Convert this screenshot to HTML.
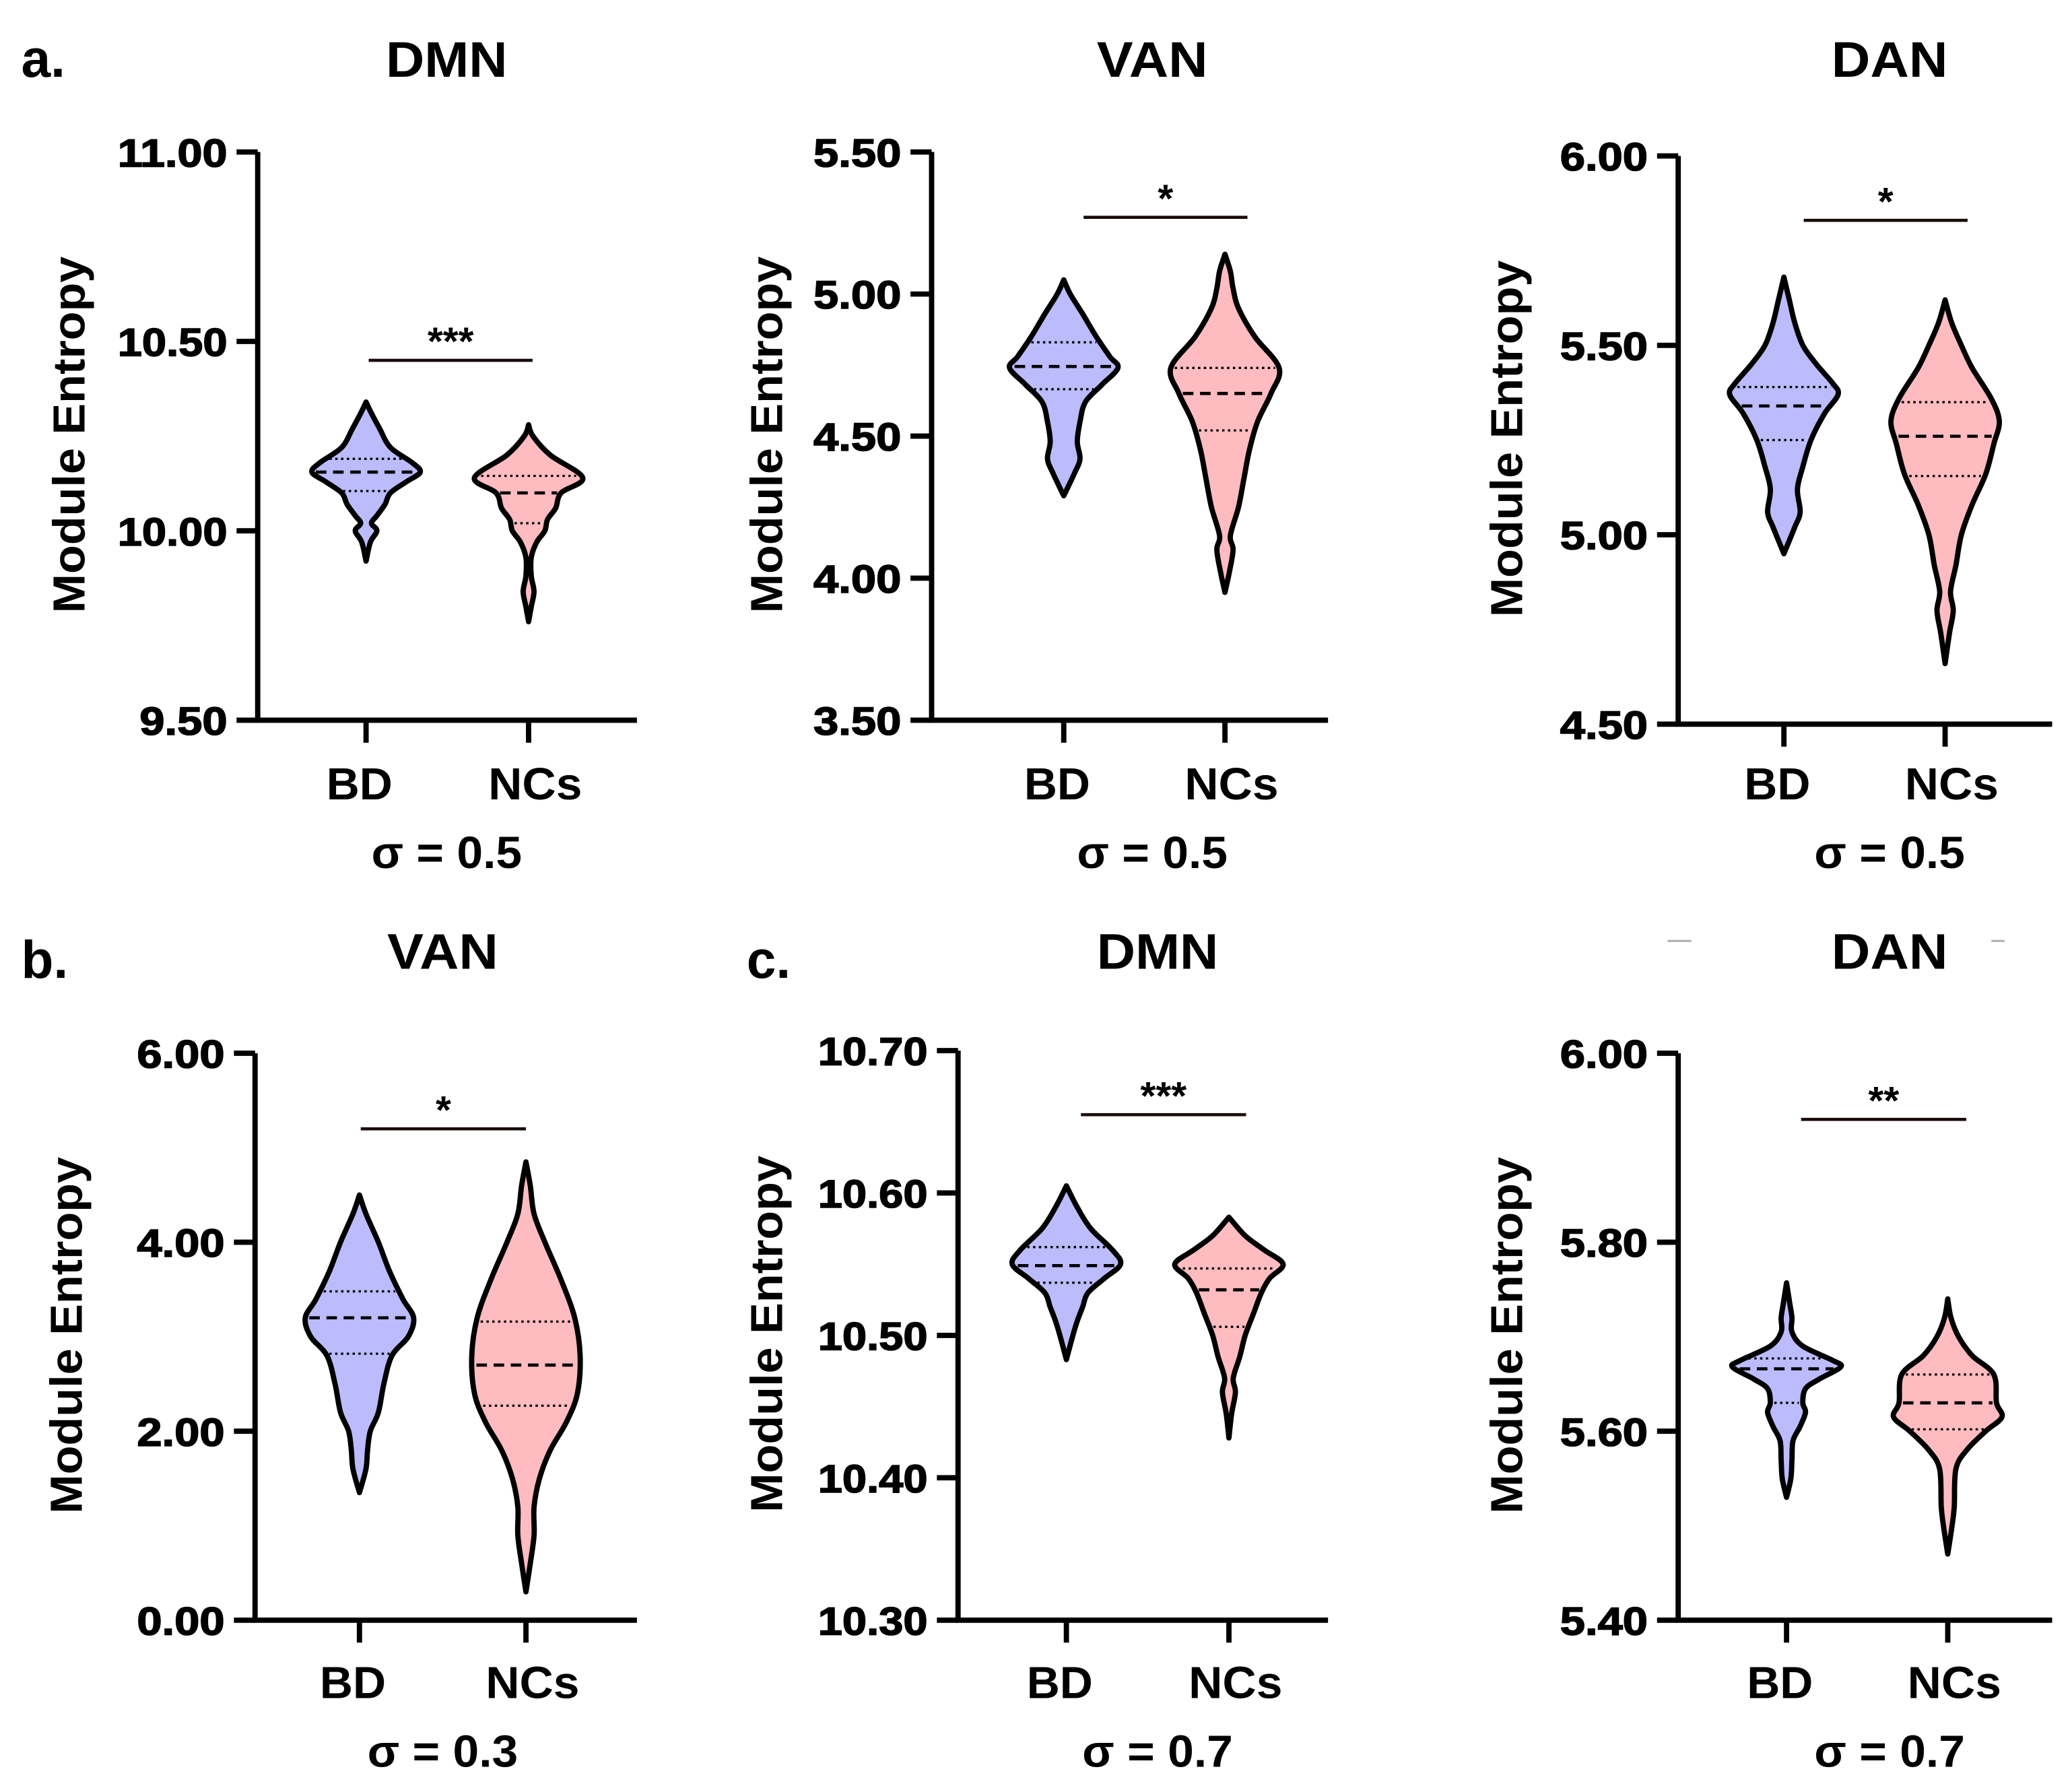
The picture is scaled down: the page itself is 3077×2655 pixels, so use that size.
<!DOCTYPE html>
<html><head><meta charset="utf-8">
<style>
html,body{margin:0;padding:0;background:#fff;}
svg{display:block;}
text{font-family:"Liberation Sans",Arial,sans-serif;font-weight:bold;fill:#000;}
</style></head>
<body>
<svg id="fig" width="3077" height="2655" viewBox="0 0 1568 1353" xmlns="http://www.w3.org/2000/svg">
<rect width="1568" height="1353" fill="#fff"/>
<text x="16" y="58" font-size="40">a.</text>
<text x="16" y="740" font-size="40">b.</text>
<text x="565" y="740" font-size="40">c.</text>
<line x1="1262" y1="712" x2="1280" y2="712" stroke="#aaa" stroke-width="1.5"/>
<line x1="1507" y1="712" x2="1517" y2="712" stroke="#aaa" stroke-width="1.5"/>
</svg>
<script>
// ---- data ----
const categories = ["BD", "NCs"];
const panelTitles = ["DMN", "VAN", "DAN", "VAN", "DMN", "DAN"];
const sigmaLabels = ["σ = 0.5", "σ = 0.5", "σ = 0.5", "σ = 0.3", "σ = 0.7", "σ = 0.7"];
const sigStars = ["***", "*", "*", "*", "***", "**"];
const yMins = [9.5, 3.5, 4.5, 0, 10.3, 5.4];
const yMaxs = [11.0, 5.5, 6.0, 6.0, 10.7, 6.0];
const yTickVals = [[9.5,10,10.5,11],[3.5,4,4.5,5,5.5],[4.5,5,5.5,6],[0,2,4,6],[10.3,10.4,10.5,10.6,10.7],[5.4,5.6,5.8,6.0]];
const yTickLabels = [["9.50","10.00","10.50","11.00"],["3.50","4.00","4.50","5.00","5.50"],["4.50","5.00","5.50","6.00"],["0.00","2.00","4.00","6.00"],["10.30","10.40","10.50","10.60","10.70"],["5.40","5.60","5.80","6.00"]];
// density profiles: [value, relative width]
const bdDensity = [
 [[10.34,0],[10.31,0.1],[10.27,0.25],[10.22,0.45],[10.18,0.85],[10.155,1],[10.13,0.75],[10.10,0.45],[10.07,0.35],[10.04,0.2],[10.02,0.1],[10.0,0.2],[9.97,0.08],[9.92,0]],
 [[5.05,0],[5.0,0.12],[4.93,0.35],[4.85,0.6],[4.78,0.85],[4.74,1],[4.68,0.7],[4.62,0.4],[4.55,0.3],[4.48,0.25],[4.42,0.3],[4.37,0.2],[4.29,0]],
 [[5.68,0],[5.62,0.1],[5.56,0.2],[5.50,0.35],[5.45,0.6],[5.40,0.9],[5.37,1],[5.32,0.75],[5.25,0.5],[5.18,0.35],[5.12,0.25],[5.06,0.3],[5.02,0.2],[4.95,0]],
 [[4.5,0],[4.3,0.12],[4.0,0.35],[3.7,0.55],[3.4,0.8],[3.2,1],[3.0,0.9],[2.8,0.6],[2.5,0.45],[2.2,0.35],[2.0,0.2],[1.8,0.15],[1.6,0.12],[1.35,0]],
 [[10.605,0],[10.59,0.2],[10.575,0.45],[10.56,0.85],[10.55,1],[10.54,0.7],[10.53,0.4],[10.52,0.3],[10.51,0.2],[10.50,0.12],[10.483,0]],
 [[5.757,0],[5.735,0.06],[5.72,0.1],[5.705,0.1],[5.69,0.3],[5.675,0.85],[5.668,1],[5.655,0.6],[5.645,0.35],[5.63,0.3],[5.62,0.35],[5.605,0.25],[5.59,0.12],[5.57,0.1],[5.55,0.08],[5.53,0]]
];
const ncDensity = [
 [[10.28,0],[10.25,0.08],[10.20,0.4],[10.14,1],[10.10,0.6],[10.06,0.5],[10.03,0.35],[10.0,0.3],[9.97,0.15],[9.93,0.05],[9.88,0.05],[9.84,0.1],[9.80,0.05],[9.76,0]],
 [[5.14,0],[5.08,0.1],[5.02,0.15],[4.95,0.25],[4.85,0.55],[4.74,1],[4.65,0.85],[4.55,0.6],[4.45,0.45],[4.35,0.35],[4.25,0.25],[4.15,0.1],[4.1,0.15],[4.02,0.08],[3.95,0]],
 [[5.62,0],[5.56,0.12],[5.50,0.3],[5.44,0.5],[5.36,0.85],[5.30,1],[5.24,0.9],[5.16,0.75],[5.08,0.5],[5.0,0.3],[4.92,0.2],[4.85,0.1],[4.80,0.15],[4.74,0.08],[4.66,0]],
 [[4.85,0],[4.6,0.08],[4.3,0.15],[4.0,0.35],[3.6,0.65],[3.2,0.9],[2.8,1],[2.4,0.95],[2.1,0.75],[1.8,0.45],[1.5,0.25],[1.2,0.15],[0.9,0.15],[0.6,0.08],[0.3,0]],
 [[10.583,0],[10.57,0.3],[10.56,0.65],[10.55,1],[10.54,0.75],[10.53,0.6],[10.515,0.45],[10.50,0.3],[10.485,0.2],[10.47,0.08],[10.46,0.12],[10.445,0.05],[10.428,0]],
 [[5.74,0],[5.72,0.06],[5.70,0.2],[5.68,0.45],[5.66,0.85],[5.63,0.9],[5.615,1],[5.60,0.7],[5.58,0.35],[5.56,0.15],[5.52,0.12],[5.50,0.08],[5.47,0]]
];
// quartiles [q1, median, q3]
const bdQuartiles = [[10.105,10.155,10.19],[4.665,4.745,4.83],[5.25,5.34,5.39],[2.82,3.2,3.48],[10.537,10.549,10.562],[5.63,5.666,5.677]];
const ncQuartiles = [[10.02,10.10,10.145],[4.52,4.65,4.74],[5.155,5.26,5.35],[2.27,2.7,3.16],[10.506,10.532,10.547],[5.602,5.63,5.66]];
const sigLevels = [10.45, 5.27, 5.83, 5.2, 10.655, 5.93];

// ---- layout (not data) ----
const layout = [
 {ax:195, top:115, bot:545, right:482, c1:277, c2:400, title:338, tY:58, catY:605, sY:657, yl:52, s1:279, s2:403},
 {ax:705, top:115, bot:545, right:1005, c1:805, c2:927, title:872, tY:58, catY:605, sY:657, yl:580, s1:820, s2:944},
 {ax:1270, top:118, bot:548, right:1553, c1:1350, c2:1472, title:1430, tY:58, catY:605, sY:657, yl:1140, s1:1365, s2:1489},
 {ax:193, top:797, bot:1226, right:482, c1:272, c2:398, title:335, tY:733, catY:1285, sY:1337, yl:50, s1:273, s2:398},
 {ax:725, top:795, bot:1226, right:1005, c1:807, c2:930, title:876, tY:733, catY:1285, sY:1337, yl:580, s1:818, s2:943},
 {ax:1270, top:797, bot:1226, right:1553, c1:1352, c2:1474, title:1430, tY:733, catY:1285, sY:1337, yl:1140, s1:1363, s2:1488}
];
const HALF = 41;
const NS = "http://www.w3.org/2000/svg";
const svg = document.getElementById('fig');
function mk(tag, attrs, parent){const e=document.createElementNS(NS,tag);for(const k in attrs)e.setAttribute(k,attrs[k]);(parent||svg).appendChild(e);return e;}

function widthAt(dens, v){
  for(let i=0;i<dens.length-1;i++){
    const a=dens[i],b=dens[i+1];
    if((v<=a[0]&&v>=b[0])){const t=(a[0]-v)/(a[0]-b[0]);return a[1]+(b[1]-a[1])*t;}
  }
  return 0;
}
function smoothPath(pts){
  let d="M"+pts[0][0].toFixed(2)+","+pts[0][1].toFixed(2);
  for(let i=0;i<pts.length-1;i++){
    const p0=pts[Math.max(0,i-1)],p1=pts[i],p2=pts[i+1],p3=pts[Math.min(pts.length-1,i+2)];
    const c1=[p1[0]+(p2[0]-p0[0])/6,p1[1]+(p2[1]-p0[1])/6];
    const c2=[p2[0]-(p3[0]-p1[0])/6,p2[1]-(p3[1]-p1[1])/6];
    d+=" C"+c1[0].toFixed(2)+","+c1[1].toFixed(2)+" "+c2[0].toFixed(2)+","+c2[1].toFixed(2)+" "+p2[0].toFixed(2)+","+p2[1].toFixed(2);
  }
  return d;
}
const titleLen = {DMN:92, VAN:84, DAN:88};

for(let p=0;p<6;p++){
  const L=layout[p];
  const g=mk('g',{});
  
  
  const yS=v=>L.bot-(v-yMins[p])/(yMaxs[p]-yMins[p])*(L.bot-L.top);

  const t=mk('text',{x:L.title,y:L.tY,'font-size':38,'text-anchor':'middle',textLength:titleLen[panelTitles[p]],lengthAdjust:'spacingAndGlyphs'},g);
  t.textContent=panelTitles[p];
  
  

  const yl=mk('text',{x:0,y:0,'font-size':34,'text-anchor':'middle',textLength:270,lengthAdjust:'spacingAndGlyphs',transform:`translate(${L.yl+12},${(L.top+L.bot)/2-1}) rotate(-90)`},g);
  yl.textContent="Module Entropy";
  
  

  const ax=mk('path',{d:`M${L.ax},${L.top} V${L.bot} H${L.right}`,fill:'none',stroke:'#000','stroke-width':4},g);
  
  

  yTickVals[p].forEach((v,i)=>{
    const y=yS(v);
    const tk=mk('line',{x1:L.ax-16,x2:L.ax,y1:y,y2:y,stroke:'#000','stroke-width':4},g);
    
    
    const lab=yTickLabels[p][i];
    const tl=mk('text',{x:L.ax-23,y:y+11,'font-size':30,'text-anchor':'end',textLength:lab.length*16.6,lengthAdjust:'spacingAndGlyphs',stroke:'#000','stroke-width':0.8},g);
    tl.textContent=lab;
    
    
  });

  const centers=[L.c1,L.c2];
  categories.forEach((c,i)=>{
    const x=centers[i];
    const tk=mk('line',{x1:x,x2:x,y1:L.bot,y2:L.bot+17,stroke:'#000','stroke-width':4},g);
    
    
    const cl=mk('text',{x:i===0?x-5:x+5,y:L.catY,'font-size':34,'text-anchor':'middle',textLength:i===0?50:71,lengthAdjust:'spacingAndGlyphs'},g);
    cl.textContent=c;
    
    

    const dens=i===0?bdDensity[p]:ncDensity[p];
    const q=i===0?bdQuartiles[p]:ncQuartiles[p];
    const right=dens.map(d=>[x+d[1]*HALF,yS(d[0])]);
    const left=dens.slice().reverse().map(d=>[x-d[1]*HALF,yS(d[0])]);
    const d1=smoothPath(right), d2=smoothPath(left);
    const vp=mk('path',{d:d1+" L"+d2.slice(1)+" Z",fill:i===0?'#bcbcfc':'#ffbcc0',stroke:'#000','stroke-width':4,'stroke-linejoin':'round'},g);
    
    
    q.forEach((v,k)=>{
      const w=widthAt(dens,v)*HALF-3;
      const ql=mk('line',{x1:x-w,x2:x+w,y1:yS(v),y2:yS(v),stroke:'#000','stroke-width':k===1?2.4:1.7,'stroke-dasharray':k===1?'8,5':'1.8,2.6'},g);
      
      
    });
  });

  const sy=yS(sigLevels[p]);
  const sl=mk('line',{x1:L.s1,x2:L.s2,y1:sy,y2:sy,stroke:'#1a0a0a','stroke-width':2.4},g);
  
  
  const st=mk('text',{x:(L.s1+L.s2)/2,y:sy-4,'font-size':30,'text-anchor':'middle'},g);
  st.textContent=sigStars[p];
  
  

  const sg=mk('text',{x:L.title,y:L.sY,'font-size':34,'text-anchor':'middle',textLength:114,lengthAdjust:'spacingAndGlyphs'},g);
  sg.textContent=sigmaLabels[p];
  
  
}
</script>
</body></html>
